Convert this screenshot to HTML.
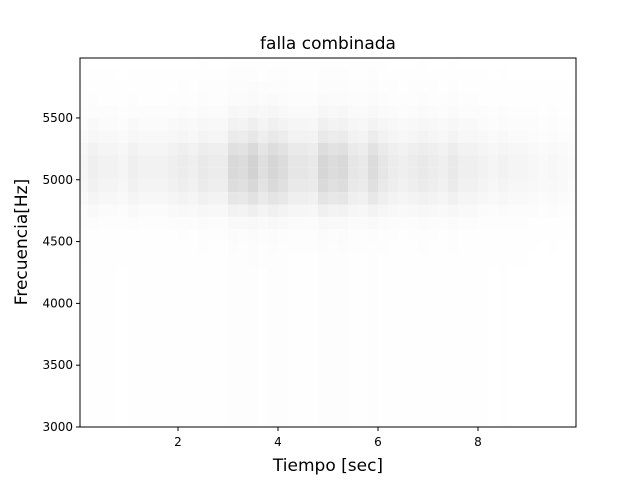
<!DOCTYPE html>
<html><head><meta charset="utf-8"><style>
body{margin:0;background:#fff;}
svg text{font-family:"DejaVu Sans","Liberation Sans",sans-serif;fill:#000;}
</style></head><body>
<svg id="chart" width="640" height="480" xmlns="http://www.w3.org/2000/svg">
<rect width="640" height="480" fill="#fff"/>
<g id="cells"></g>
<rect x="80" y="58" width="496" height="369" fill="none" stroke="#000" stroke-width="1"/>
<g id="ticks"></g>
<text x="328" y="49" font-size="17" text-anchor="middle">falla combinada</text>
<text x="328" y="471" font-size="17" text-anchor="middle">Tiempo [sec]</text>
<text transform="translate(27,242) rotate(-90)" font-size="17" text-anchor="middle">Frecuencia[Hz]</text>
</svg>
<script>
const timeCenters=[0.1,0.3,0.5,0.7,0.9,1.1,1.3,1.5,1.7,1.9,2.1,2.3,2.5,2.7,2.9,3.1,3.3,3.5,3.7,3.9,4.1,4.3,4.5,4.7,4.9,5.1,5.3,5.5,5.7,5.9,6.1,6.3,6.5,6.7,6.9,7.1,7.3,7.5,7.7,7.9,8.1,8.3,8.5,8.7,8.9,9.1,9.3,9.5,9.7,9.9];
const timeIntensity=[0.15,0.25,0.2,0.2,0.15,0.25,0.2,0.2,0.2,0.25,0.3,0.25,0.35,0.3,0.3,0.6,0.55,0.7,0.5,0.65,0.55,0.4,0.4,0.35,0.65,0.55,0.6,0.4,0.35,0.55,0.4,0.3,0.25,0.3,0.35,0.3,0.25,0.35,0.25,0.25,0.2,0.15,0.2,0.15,0.15,0.12,0.1,0.12,0.1,0.08];
const freqBins=[3000,3100,3200,3300,3400,3500,3600,3700,3800,3900,4000,4100,4200,4300,4400,4500,4600,4700,4800,4900,5000,5100,5200,5300,5400,5500,5600,5700,5800,5900];
const freqProfile=[0.04,0.04,0.04,0.04,0.04,0.04,0.04,0.04,0.04,0.04,0.04,0.04,0.04,0.05,0.06,0.08,0.14,0.3,0.55,0.75,0.85,0.85,0.7,0.45,0.3,0.18,0.1,0.07,0.04,0.02];
const xTicks=[2,4,6,8];
const yTicks=[3000,3500,4000,4500,5000,5500];
const NS="http://www.w3.org/2000/svg";
const X0=80,X1=576,Y0=427,Y1=58,TMIN=0.04,TMAX=9.96,FMIN=3000,FMAX=5985;
function xs(t){return X0+(t-TMIN)/(TMAX-TMIN)*(X1-X0);}
function ys(f){return Y0-(f-FMIN)/(FMAX-FMIN)*(Y0-Y1);}
const cells=document.getElementById('cells');
for(let i=0;i<timeCenters.length;i++){
  const xa=Math.max(X0,xs(timeCenters[i]-0.1)),xb=Math.min(X1,xs(timeCenters[i]+0.1));
  for(let j=0;j<freqBins.length;j++){
    const ya=ys(Math.min(FMAX,freqBins[j]+100)),yb=ys(freqBins[j]);
    const d=timeIntensity[i]*freqProfile[j];
    const g=Math.round(255-75*d);
    const r=document.createElementNS(NS,'rect');
    r.setAttribute('x',xa);r.setAttribute('y',ya);
    r.setAttribute('width',xb-xa);r.setAttribute('height',yb-ya);
    r.setAttribute('fill',`rgb(${g},${g},${g})`);
    
    
    cells.appendChild(r);
  }
}
const tk=document.getElementById('ticks');
xTicks.forEach(v=>{
  const x=xs(v);
  const l=document.createElementNS(NS,'line');
  l.setAttribute('x1',x);l.setAttribute('x2',x);l.setAttribute('y1',Y0);l.setAttribute('y2',Y0+4);l.setAttribute('stroke','#000');
  
  
  tk.appendChild(l);
  const t=document.createElementNS(NS,'text');
  t.setAttribute('x',x);t.setAttribute('y',Y0+19);t.setAttribute('font-size','12');t.setAttribute('text-anchor','middle');
  t.textContent=v;
  
  
  tk.appendChild(t);
});
yTicks.forEach(v=>{
  const y=ys(v);
  const l=document.createElementNS(NS,'line');
  l.setAttribute('x1',X0-4);l.setAttribute('x2',X0);l.setAttribute('y1',y);l.setAttribute('y2',y);l.setAttribute('stroke','#000');
  
  
  tk.appendChild(l);
  const t=document.createElementNS(NS,'text');
  t.setAttribute('x',X0-7);t.setAttribute('y',y+4);t.setAttribute('font-size','12');t.setAttribute('text-anchor','end');
  t.textContent=v;
  
  
  tk.appendChild(t);
});
</script>
</body></html>
